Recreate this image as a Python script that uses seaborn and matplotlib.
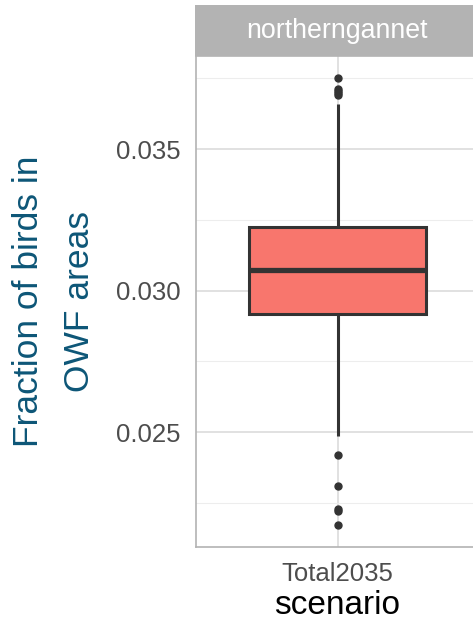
import pandas as pd
import matplotlib
matplotlib.use('Agg')
from matplotlib import pyplot as plt
from matplotlib.patches import Rectangle
from matplotlib.ticker import MultipleLocator, FormatStrFormatter
import seaborn as sns

# values (one sample per simulation run)
species = 'northerngannet'
scenario = 'Total2035'
low_outliers = [0.02171, 0.02221, 0.02228, 0.02309, 0.02419]
core_values = [0.02486, 0.0262, 0.0275, 0.0283, 0.0288,
               0.02919, 0.0294, 0.0296, 0.0298, 0.0300, 0.0302, 0.0303, 0.0304, 0.0305, 0.0306,
               0.03074, 0.0309, 0.0310, 0.0312, 0.0313, 0.0315, 0.0316, 0.0318, 0.0319, 0.0321,
               0.03226, 0.0327, 0.0334, 0.0344, 0.0355, 0.03659]
high_outliers = [0.03692, 0.03697, 0.03704, 0.03712, 0.03752]
yticks = [0.025, 0.030, 0.035]

fraction = low_outliers + core_values + high_outliers
df = pd.DataFrame({'scenario': [scenario] * len(fraction), 'fraction': fraction})

sns.set_theme(style='whitegrid')
plt.rcParams['font.family'] = ['Liberation Sans', 'DejaVu Sans']

W, H = 473, 623
fig = plt.figure(figsize=(W / 100, H / 100), dpi=100)
ax = fig.add_axes([196 / W, 76 / H, 283 / W, 491 / H])

sns.boxplot(data=df, x='scenario', y='fraction', ax=ax,
            color='#F8766D', saturation=1, width=0.75, showcaps=False,
            linecolor='#333333', linewidth=2.2, fliersize=5,
            flierprops=dict(marker='o', markerfacecolor='#333333',
                            markeredgecolor='#333333'),
            medianprops=dict(linewidth=3.8))

ax.set_xlim(-0.6, 0.6)
ax.set_ylim(0.02094, 0.03829)
ax.set_yticks(yticks)
ax.yaxis.set_major_formatter(FormatStrFormatter('%.3f'))
ax.yaxis.set_minor_locator(MultipleLocator(0.0025))
ax.set_axisbelow(True)
ax.grid(True, which='major', axis='both', color='#DEDEDE', linewidth=1.3)
ax.grid(True, which='minor', axis='y', color='#EDEDED', linewidth=0.8)
ax.set_facecolor('white')

for s in ax.spines.values():
    s.set_visible(True)
    s.set_color('#B3B3B3')
    s.set_linewidth(1.2)

ax.tick_params(axis='both', which='major', length=7, width=1.0, color='#B3B3B3',
               labelsize=18.5, labelcolor='#4D4D4D', pad=4)
ax.tick_params(axis='y', which='minor', length=0)

ax.set_xlabel('scenario', fontsize=24, color='black', labelpad=3)
ax.set_ylabel('Fraction of birds in\nOWF areas', fontsize=25.5, color='#0D5677',
              linespacing=1.68)
ax.yaxis.set_label_coords(-0.355, 0.5)

# facet strip
fig.add_artist(Rectangle((195 / W, (H - 56) / H), 290 / W, 51 / H,
                         transform=fig.transFigure, facecolor='#B3B3B3',
                         edgecolor='none'))
fig.text(337 / W, 1 - 31 / H, species, color='white', ha='center', va='center',
         fontsize=19.3)

plt.savefig('out.png', dpi=100)
